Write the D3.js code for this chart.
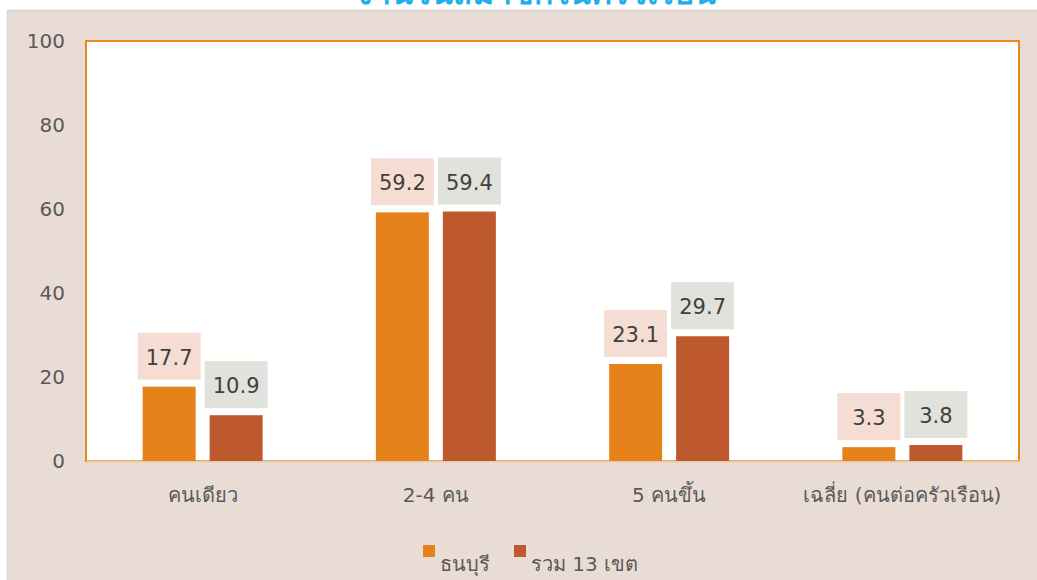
<!DOCTYPE html>
<html>
<head>
<meta charset="utf-8">
<script src="https://cdn.jsdelivr.net/npm/d3@7"></script>
<style>
  body { margin: 0; background: #fff; }
  text { font-family: "DejaVu Sans", "Noto Sans", sans-serif; }
</style>
</head>
<body>
<svg id="chart" width="1037" height="580"></svg>
<script>
// data
const categories = ["คนเดียว", "2-4 คน", "5 คนขึ้น", "เฉลี่ย (คนต่อครัวเรือน)"];
const seriesNames = ["ธนบุรี", "รวม 13 เขต"];
const thonburi = [17.7, 59.2, 23.1, 3.3];
const total13 = [10.9, 59.4, 29.7, 3.8];
const yTicks = [0, 20, 40, 60, 80, 100];

const colors = ["#E6821A", "#BE582D"];
const labelBg = ["#F6DDD3", "#E1E2DB"];
const fontFam = "\"DejaVu Sans\", \"Noto Sans\", sans-serif";

const svg = d3.select("#chart");

// title (cut off at top of picture, as in the original)
svg.append("text")
  .attr("x", 535).attr("y", 4)
  .attr("text-anchor", "middle")
  .attr("font-size", 32).attr("font-weight", "bold")
  .attr("fill", "#1DAEEC")
  .text("จำนวนสมาชิกในครัวเรือน");

// panel background
svg.append("rect")
  .attr("x", 8).attr("y", 11).attr("width", 1029).attr("height", 569)
  .attr("fill", "#E9DCD5");
svg.append("line").attr("x1", 7.5).attr("x2", 7.5).attr("y1", 10).attr("y2", 580)
  .attr("stroke", "#D6D6D6").attr("stroke-width", 1.5);
svg.append("line").attr("x1", 7).attr("x2", 1037).attr("y1", 10.5).attr("y2", 10.5)
  .attr("stroke", "#D9D6D3").attr("stroke-width", 1.5);

const plot = { left: 86, right: 1019, top: 41, bottom: 461 };

const x = d3.scaleBand().domain(categories).range([plot.left, plot.right]).padding(0);
const y = d3.scaleLinear().domain([0, 100]).range([plot.bottom, plot.top]);
const barW = 53, gap = 14;

svg.append("rect")
  .attr("x", plot.left).attr("y", plot.top)
  .attr("width", plot.right - plot.left).attr("height", plot.bottom - plot.top)
  .attr("fill", "#fff").attr("stroke", "#E8891F").attr("stroke-width", 2);

// y axis labels
const yAxis = svg.append("g")
  .attr("transform", `translate(${plot.left},0)`)
  .call(d3.axisLeft(y).tickValues(yTicks).tickSize(0).tickPadding(21));
yAxis.select(".domain").remove();
yAxis.selectAll("text").attr("font-size", 20).attr("fill", "#595959")
  .style("font-family", fontFam);

// x axis
const xAxis = svg.append("g")
  .attr("transform", `translate(0,${plot.bottom})`)
  .call(d3.axisBottom(x).tickSize(0).tickPadding(27));
xAxis.select(".domain").attr("stroke", "#E6CDB2").attr("stroke-width", 2);
xAxis.selectAll("text").attr("font-size", 20).attr("fill", "#595959")
  .style("font-family", fontFam);

// bars + labels
const series = [thonburi, total13];
series.forEach((vals, si) => {
  const g = svg.append("g");
  const off = si === 0 ? -(gap / 2 + barW) : gap / 2;
  const cx = c => x(c) + x.bandwidth() / 2 + off;
  const rows = categories.map((c, i) => ({ c, v: vals[i] }));

  g.selectAll(".bar").data(rows).enter().append("rect")
    .attr("class", "bar")
    .attr("x", d => cx(d.c))
    .attr("y", d => y(d.v))
    .attr("width", barW)
    .attr("height", d => plot.bottom - y(d.v))
    .attr("fill", colors[si]);

  g.selectAll(".lbg").data(rows).enter().append("rect")
    .attr("class", "lbg")
    .attr("x", d => cx(d.c) + barW / 2 - 31.5)
    .attr("y", d => y(d.v) - 7 - 47)
    .attr("width", 63).attr("height", 47)
    .attr("fill", labelBg[si]);

  g.selectAll(".lbl").data(rows).enter().append("text")
    .attr("class", "lbl")
    .attr("x", d => cx(d.c) + barW / 2)
    .attr("y", d => y(d.v) - 7 - 15)
    .attr("text-anchor", "middle")
    .attr("font-size", 21).attr("fill", "#404040")
    .text(d => d.v.toFixed(1));
});

// legend
const legendX = [423, 514];
seriesNames.forEach((n, i) => {
  svg.append("rect").attr("x", legendX[i]).attr("y", 545).attr("width", 12).attr("height", 12)
    .attr("fill", colors[i]);
  svg.append("text").attr("x", legendX[i] + 17).attr("y", 571)
    .attr("font-size", 20).attr("fill", "#595959").text(n);
});
</script>
</body>
</html>
